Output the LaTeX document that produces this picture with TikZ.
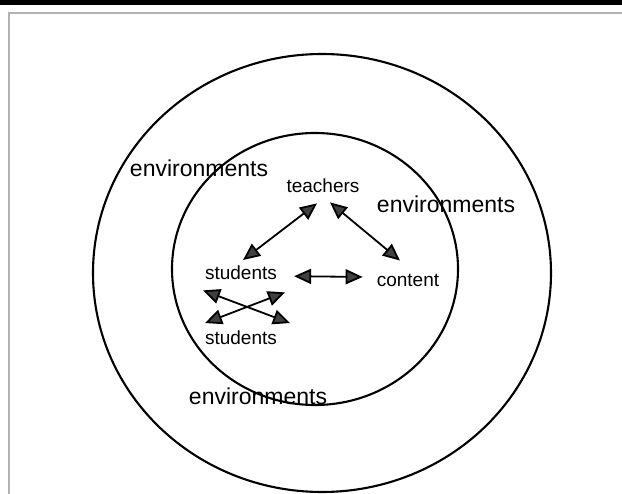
\documentclass[tikz,border=0pt]{standalone}
\usepackage{fontspec}
\setmainfont{Liberation Sans}
\usetikzlibrary{arrows.meta, positioning}
\usepackage{xcolor}

\begin{document}
\begin{tikzpicture}[
x=1pt, y=-1pt,
ring/.style={draw, line width=2.1pt},
env/.style={anchor=base, inner sep=0pt, font=\fontsize{23}{27}\selectfont},
lbl/.style={anchor=base, inner sep=0pt, font=\fontsize{19}{22}\selectfont},
biarrow/.style={{Triangle[length=17pt, width=15pt, fill=darkgray]}-{Triangle[length=17pt, width=15pt, fill=darkgray]}, line width=1.8pt} ]

\useasboundingbox (0,0) rectangle (622,494);

% page frame
\fill (0,0) rectangle (622,5.5);
\draw[gray!60, line width=1.8pt] (9,494) -- (9,13) -- (622,13);

% circles
\draw[ring] (322,273) ellipse [x radius=229, y radius=219];
\draw[ring] (315,269) ellipse [x radius=143, y radius=136];

% labels
\node[env] (envout) at (199,177) {environments};
\node[env] (envin) at (446,213) {environments};
\node[env] (envlow) at (258,405) {environments};

\node[lbl] (teachers) at (323,193) {teachers};
\node[lbl] (students) at (241,280) {students};
\node[lbl] (content) at (408,287) {content};
\node[lbl] (peers) at (241,345) {students};

% arrows
\draw[biarrow] ([shift={(-6,10)}]teachers.south) -- ([shift={(2,-6)}]students.north);
\draw[biarrow] ([shift={(7,9)}]teachers.south) -- ([shift={(-8,-14)}]content.north);
\draw[biarrow] ([shift={(17,3)}]students.east) -- ([shift={(-14,-4)}]content.west);
\draw[biarrow] ([shift={(-38,10)}]students.south) -- ([shift={(49,-8)}]peers.north);
\draw[biarrow] ([shift={(44,12)}]students.south) -- ([shift={(-36,-8)}]peers.north);

\end{tikzpicture}
\end{document}
